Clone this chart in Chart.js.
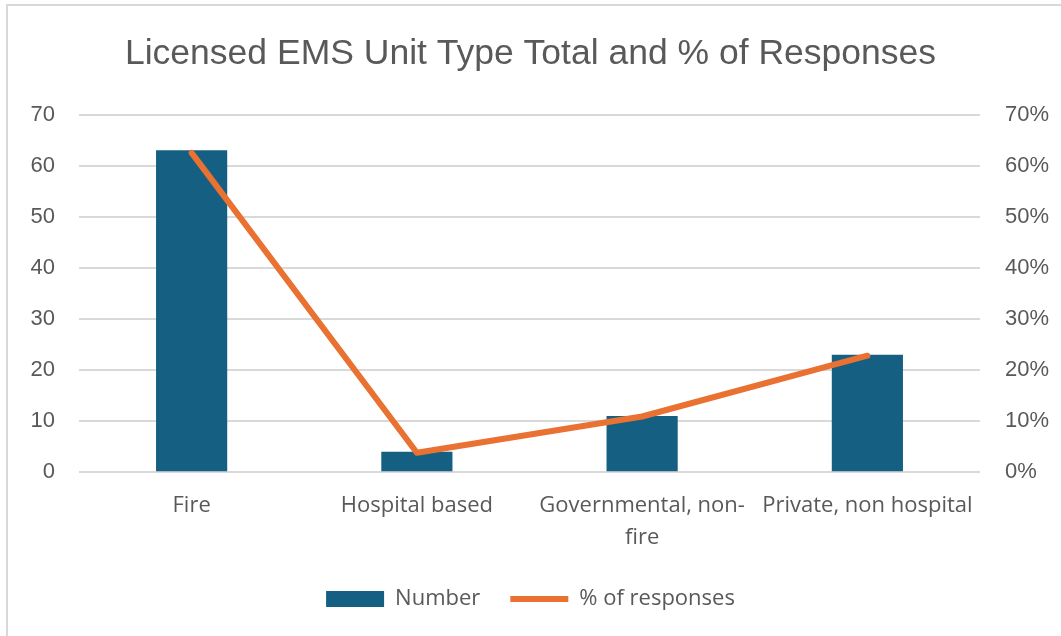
<!DOCTYPE html>
<html>
<head>
<meta charset="utf-8">
<script src="https://cdn.jsdelivr.net/npm/chart.js@4"></script>
<style>
    html, body { margin: 0; padding: 0; background: #ffffff; }
    .frame {
        position: absolute; left: 6px; top: 4px; width: 1100px; height: 700px;
        border-left: 2px solid #d9d9d9; border-top: 2px solid #d9d9d9;
    }
    .wrap { position: absolute; left: 0; top: 0; width: 1061px; height: 636px; }
</style>
</head>
<body>
<div class="frame"></div>
<div class="wrap"><canvas id="emsChart"></canvas></div>
<script>
// Chart data
const unitTypes = ['Fire', 'Hospital based', ['Governmental, non-', 'fire'], 'Private, non hospital'];
const unitCounts = [63, 4, 11, 23];
const responsePct = [62.5, 3.8, 10.9, 22.8];
const leftTicks = [0, 10, 20, 30, 40, 50, 60, 70];

const textGray = '#595959';
const gridGray = '#d9d9d9';

document.addEventListener('DOMContentLoaded', function() {
    new Chart(document.getElementById('emsChart'), {
        type: 'bar',
        data: {
            labels: unitTypes,
            datasets: [
                {
                    label: 'Number',
                    data: unitCounts,
                    backgroundColor: '#156082',
                    borderWidth: 0,
                    barPercentage: 0.316,
                    categoryPercentage: 1,
                    yAxisID: 'y',
                    pointStyle: 'rect',
                    order: 1
                },
                {
                    type: 'line',
                    label: '% of responses',
                    data: responsePct,
                    borderColor: '#E97132',
                    backgroundColor: '#E97132',
                    borderWidth: 6,
                    borderCapStyle: 'round',
                    borderJoinStyle: 'round',
                    pointRadius: 0,
                    pointStyle: 'line',
                    tension: 0,
                    yAxisID: 'y1',
                    order: 0
                }
            ]
        },
        options: {
            responsive: true,
            maintainAspectRatio: false,
            animation: false,
            layout: { padding: { left: 0, right: 0, top: 33, bottom: 16 } },
            plugins: {
                title: {
                    display: true,
                    text: 'Licensed EMS Unit Type Total and % of Responses',
                    color: textGray,
                    font: { family: 'Liberation Sans', size: 35.5, weight: 'normal' },
                    padding: { top: 0, bottom: 39 }
                },
                legend: {
                    position: 'bottom',
                    labels: {
                        color: textGray,
                        font: { family: 'Open Sans', size: 22 },
                        usePointStyle: true,
                        pointStyleWidth: 58,
                        boxHeight: 16,
                        padding: 30,
                        sort: (a, b) => a.datasetIndex - b.datasetIndex
                    }
                },
                tooltip: { enabled: false }
            },
            scales: {
                x: {
                    grid: { display: false, drawTicks: false },
                    border: { display: false },
                    ticks: {
                        color: textGray,
                        font: { family: 'Open Sans', size: 22, lineHeight: 1.45 },
                        padding: 18,
                        maxRotation: 0,
                        autoSkip: false
                    },
                    afterFit: axis => { axis.height -= 14; }
                },
                y: {
                    position: 'left',
                    min: 0,
                    max: 70,
                    afterBuildTicks: axis => { axis.ticks = leftTicks.map(v => ({ value: v })); },
                    grid: { color: gridGray, lineWidth: 2, drawTicks: false },
                    border: { display: false },
                    ticks: {
                        color: textGray,
                        font: { family: 'Liberation Sans', size: 22 },
                        padding: 24
                    },
                    afterFit: axis => { axis.width = 79; }
                },
                y1: {
                    position: 'right',
                    min: 0,
                    max: 70,
                    afterBuildTicks: axis => { axis.ticks = leftTicks.map(v => ({ value: v })); },
                    grid: { display: false, drawTicks: false },
                    border: { display: false },
                    ticks: {
                        color: textGray,
                        font: { family: 'Liberation Sans', size: 22 },
                        padding: 25,
                        callback: v => v + '%'
                    },
                    afterFit: axis => { axis.width = 81; }
                }
            }
        }
    });
});
</script>
</body>
</html>
